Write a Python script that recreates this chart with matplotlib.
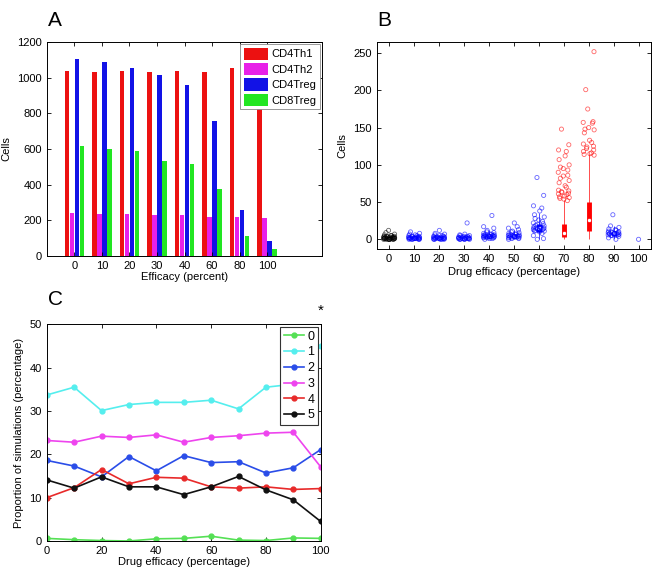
import numpy as np
import matplotlib
matplotlib.use("Agg")
import matplotlib.pyplot as plt

plt.rcParams["font.family"] = ["Liberation Sans", "DejaVu Sans"]
plt.rcParams["font.size"] = 8

# ---- panel A data ----
efficacy_a = ["0", "10", "20", "30", "40", "60", "80", "100"]
cd4th1 = [1035, 1030, 1039, 1030, 1035, 1030, 1052, 1020]
cd4th2 = [239, 234, 235, 228, 228, 219, 219, 213]
cd4treg = [1106, 1088, 1054, 1013, 957, 755, 258, 84]
cd8treg = [618, 600, 586, 534, 514, 374, 112, 37]

# ---- panel B data ----
efficacy_b = [0, 10, 20, 30, 40, 50, 60, 70, 80, 90, 100]
b_colors = ["black", "blue", "blue", "blue", "blue", "blue", "blue", "red", "red", "blue", "blue"]
# box stats: lower whisker, q1, median, q3, upper whisker
b_wlo = [0, 0, 0, 0, 0, 0, 1, 0, 0, 0, 0]
b_q1 = [0, 0.5, 0.5, 0.5, 2, 2, 10, 3, 11, 5, 0]
b_med = [1, 1.5, 1.5, 1.5, 4, 4, 15, 9, 26, 8, 0]
b_q3 = [2, 3, 3, 3, 6, 7, 20, 21, 50, 10, 0]
b_whi = [5, 6, 6, 6, 12, 13, 35, 53, 115, 18, 0]
b_points = [
    [0, 0, 0, 0, 0, 0, 1, 1, 1, 1, 1, 1, 1, 1, 2, 2, 2, 2, 2, 2, 2, 3, 3, 3,
     3, 3, 4, 4, 4, 5, 5, 6, 7, 9, 12],
    [0, 0, 0, 0, 0, 1, 1, 1, 1, 1, 1, 1, 2, 2, 2, 2, 2, 2, 3, 3, 3, 3, 4, 4,
     4, 5, 5, 6, 7, 8, 10],
    [0, 0, 0, 0, 0, 1, 1, 1, 1, 1, 1, 2, 2, 2, 2, 2, 2, 3, 3, 3, 3, 4, 4, 5,
     5, 6, 7, 8, 12],
    [0, 0, 0, 0, 0, 1, 1, 1, 1, 1, 1, 2, 2, 2, 2, 2, 3, 3, 3, 3, 4, 4, 5, 5,
     6, 7, 22],
    [0, 1, 1, 2, 2, 2, 3, 3, 3, 3, 4, 4, 4, 4, 4, 5, 5, 5, 5, 6, 6, 6, 7, 7,
     8, 9, 10, 12, 15, 17, 32],
    [0, 1, 1, 2, 2, 2, 3, 3, 3, 4, 4, 4, 4, 5, 5, 5, 6, 6, 6, 7, 7, 8, 9, 10,
     11, 13, 15, 17, 22],
    [0, 1, 5, 8, 10, 11, 11, 12, 12, 13, 13, 14, 14, 15, 15, 15, 16, 16, 17,
     18, 19, 20, 21, 22, 24, 26, 28, 30, 33, 38, 42, 45, 59, 83],
    [52, 54, 55, 56, 57, 58, 60, 61, 62, 63, 64, 65, 66, 70, 72, 76, 79, 82,
     85, 86, 90, 93, 95, 97, 100, 107, 112, 118, 120, 127, 148],
    [113, 114, 115, 116, 118, 120, 122, 124, 125, 128, 130, 133, 143, 147,
     148, 150, 156, 157, 158, 175, 201, 252],
    [0, 2, 4, 5, 5, 6, 6, 6, 7, 7, 7, 8, 8, 8, 9, 9, 9, 10, 10, 11, 12, 13,
     14, 16, 18, 33],
    [0],
]

# ---- panel C data ----
efficacy_c = [0, 10, 20, 30, 40, 50, 60, 70, 80, 90, 100]
c_series = {
    "0": [0.6, 0.3, 0.1, 0.0, 0.5, 0.6, 1.1, 0.2, 0.1, 0.7, 0.6],
    "1": [33.7, 35.5, 30.1, 31.5, 32.0, 32.0, 32.5, 30.5, 35.5, 36.2, 45.1],
    "2": [18.6, 17.3, 14.8, 19.5, 16.2, 19.7, 18.1, 18.3, 15.7, 16.9, 21.1],
    "3": [23.2, 22.8, 24.2, 23.9, 24.5, 22.8, 23.9, 24.3, 24.9, 25.1, 17.1],
    "4": [10.0, 12.3, 16.5, 13.2, 14.7, 14.5, 12.5, 12.2, 12.5, 11.9, 12.1],
    "5": [14.1, 12.2, 14.8, 12.5, 12.5, 10.7, 12.5, 14.9, 11.8, 9.5, 4.5],
}
c_colors = ["#55e055", "#55eeee", "#2a4de8", "#ee44ee", "#e82a2a", "#111111"]

fig = plt.figure(figsize=(6.58, 5.76), dpi=100)


def style(ax):
    ax.tick_params(direction="in", top=True, right=True, length=3, width=0.6, labelsize=8)
    for s in ax.spines.values():
        s.set_linewidth(0.7)


# A: grouped bars
axA = fig.add_axes([0.0714, 0.5556, 0.418, 0.3715])
x = np.arange(1, len(efficacy_a) + 1)
w = 0.165
for off, vals, col, lab in [(-1.5, cd4th1, "#ec1111", "CD4Th1"),
                            (-0.5, cd4th2, "#e820e8", "CD4Th2"),
                            (0.5, cd4treg, "#1212e6", "CD4Treg"),
                            (1.5, cd8treg, "#22e622", "CD8Treg")]:
    axA.bar(x + off * 0.18, vals, w, color=col, label=lab)
axA.set_xlim(0, 10)
axA.set_ylim(0, 1200)
axA.set_xticks(x)
axA.set_xticklabels(efficacy_a)
axA.set_yticks(range(0, 1201, 200))
axA.set_xlabel("Efficacy (percent)", labelpad=1)
axA.set_ylabel("Cells")
leg = axA.legend(loc="upper right", fontsize=8, fancybox=False, framealpha=1,
                 edgecolor="#888888", handlelength=2.2, handleheight=1.3,
                 borderaxespad=0.2, labelspacing=0.3, handletextpad=0.3, borderpad=0.3)
leg.get_frame().set_linewidth(0.6)
style(axA)

# B: compact boxplots with jittered points
axB = fig.add_axes([0.5725, 0.5677, 0.4169, 0.3594])
for i, xv in enumerate(efficacy_b):
    col = b_colors[i]
    pts = np.array(b_points[i], dtype=float)
    jit = 2.2 * np.sin(np.arange(len(pts)) * 2.399 + i)
    if len(pts) == 1:
        jit = jit * 0
    axB.vlines(xv, b_wlo[i], b_whi[i], color=col, lw=0.7, alpha=0.7, zorder=2)
    axB.vlines(xv, b_q1[i], b_q3[i], color=col, lw=3.5, zorder=3)
    if b_q3[i] > b_q1[i]:
        axB.plot(xv, b_med[i], "o", ms=3, mfc="white", mec=col, mew=0.5, zorder=3)
    axB.scatter(xv + jit, pts, s=9, facecolors="none", edgecolors=col,
                linewidths=0.6, alpha=0.6, zorder=4)
axB.set_xlim(-5, 105)
axB.set_ylim(-13, 265)
axB.set_xticks(efficacy_b)
axB.set_yticks(range(0, 251, 50))
axB.set_xlabel("Drug efficacy (percentage)", labelpad=2)
axB.set_ylabel("Cells")
style(axB)

# C: lines
axC = fig.add_axes([0.071, 0.0608, 0.4164, 0.376])
for (lab, vals), col in zip(c_series.items(), c_colors):
    axC.plot(efficacy_c, vals, "-o", color=col, lw=1.2, ms=3.5, mfc=col, mec=col, label=lab)
axC.set_xlim(0, 100)
axC.set_ylim(0, 50)
axC.set_xticks(range(0, 101, 20))
axC.set_yticks(range(0, 51, 10))
axC.set_xlabel("Drug efficacy (percentage)", labelpad=1)
axC.set_ylabel("Proportion of simulations (percentage)")
leg = axC.legend(loc="upper right", fontsize=9, fancybox=False, framealpha=1,
                 edgecolor="#333333", handlelength=1.6, borderaxespad=0.2,
                 labelspacing=0.3, handletextpad=0.3, borderpad=0.3)
leg.get_frame().set_linewidth(0.8)
axC.text(100, 51.5, "*", ha="center", va="bottom", fontsize=11)
style(axC)

fig.text(0.073, 0.955, "A", fontsize=15)
fig.text(0.574, 0.955, "B", fontsize=15)
fig.text(0.073, 0.47, "C", fontsize=15)

fig.savefig("out.png", dpi=100)
